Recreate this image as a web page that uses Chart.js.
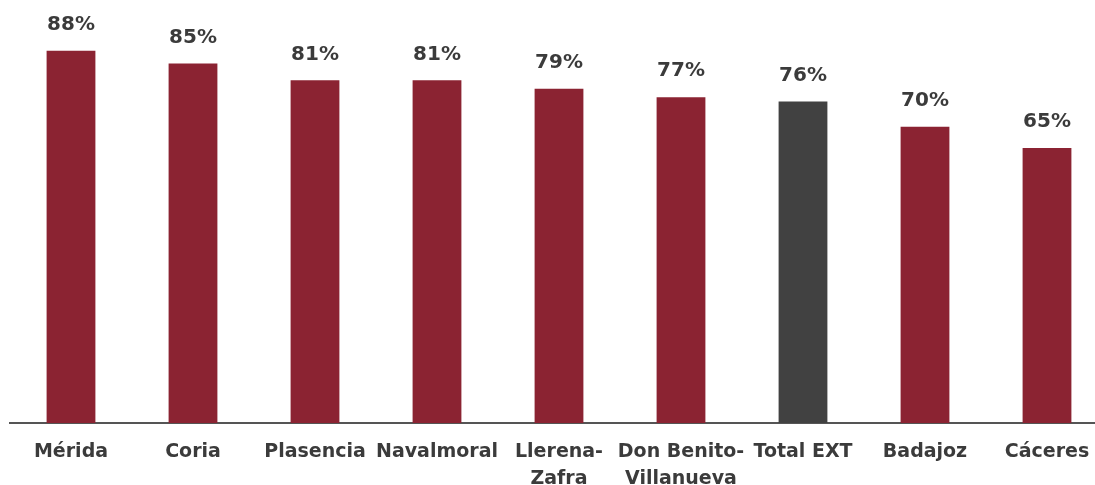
<!DOCTYPE html>
<html>
<head>
<meta charset="utf-8">
<script src="https://cdn.jsdelivr.net/npm/chart.js@4"></script>
<style>
    html, body { margin: 0; padding: 0; background: #fff; overflow: hidden; }
    #wrap { position: relative; width: 1110px; height: 508px; }
</style>
</head>
<body>
<div id="wrap"><canvas id="zonaChart"></canvas></div>
<script>
const categories = ['Mérida', 'Coria', 'Plasencia', 'Navalmoral', ['Llerena-', 'Zafra'],
    ['Don Benito-', 'Villanueva'], 'Total EXT', 'Badajoz', 'Cáceres'];
const percentages = [88, 85, 81, 81, 79, 77, 76, 70, 65];
const totalLabel = 'Total EXT';

const RED = '#8b2332';
const GREY = '#414141';
const TEXT = '#3b3b3b';
const FONT = "'DejaVu Sans', sans-serif";

// value labels above each bar
const barValues = {
    id: 'barValues',
    afterDatasetsDraw(chart) {
        const ctx = chart.ctx;
        const meta = chart.getDatasetMeta(0);
        ctx.save();
        ctx.fillStyle = TEXT;
        ctx.font = `bold 20px ${FONT}`;
        ctx.textAlign = 'center';
        ctx.textBaseline = 'bottom';
        meta.data.forEach((bar, i) => {
            ctx.fillText(`${percentages[i]}%`, bar.x, bar.y - 16);
        });
        ctx.restore();
    }
};

const ctx = document.getElementById('zonaChart');
new Chart(ctx, {
    type: 'bar',
    data: {
        labels: categories,
        datasets: [{
            data: percentages,
            backgroundColor: categories.map(c => c === totalLabel ? GREY : RED),
            barPercentage: 0.4,
            categoryPercentage: 1.0
        }]
    },
    options: {
        responsive: true,
        maintainAspectRatio: false,
        animation: false,
        layout: { padding: { left: 10, right: 2, top: 0, bottom: 0 } },
        plugins: {
            legend: { display: false },
            tooltip: { enabled: false }
        },
        scales: {
            x: {
                grid: { display: false, drawTicks: false },
                border: { color: '#555', width: 2 },
                ticks: {
                    color: TEXT,
                    font: { family: FONT, size: 19, weight: 'bold', lineHeight: 1.45 },
                    padding: 15,
                    autoSkip: false,
                    maxRotation: 0,
                    minRotation: 0
                }
            },
            y: {
                display: false,
                min: 0,
                max: 100
            }
        }
    },
    plugins: [barValues]
});
</script>
</body>
</html>
